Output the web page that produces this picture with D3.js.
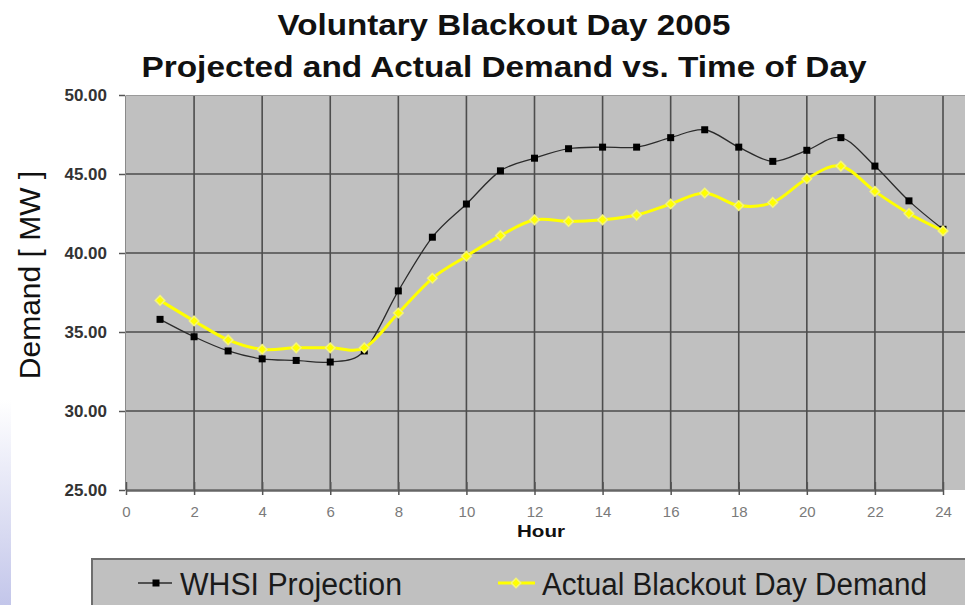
<!DOCTYPE html>
<html>
<head>
<meta charset="utf-8">
<title>Voluntary Blackout Day 2005</title>
<script src="https://cdn.jsdelivr.net/npm/d3@7/dist/d3.min.js"></script>
<style>
	html, body { margin: 0; padding: 0; background: #fff; }
	svg { display: block; }
</style>
</head>
<body>
<div id="chart"></div>
<script>
'use strict';

// Voluntary Blackout Day 2005 - projected vs actual demand, Excel-style line chart.

const hours = [1, 2, 3, 4, 5, 6, 7, 8, 9, 10, 11, 12, 13, 14, 15, 16, 17, 18, 19, 20, 21, 22, 23, 24];
const projection = [35.8, 34.7, 33.8, 33.3, 33.2, 33.1, 33.8, 37.6, 41.0, 43.1, 45.2, 46.0,
	46.6, 46.7, 46.7, 47.3, 47.8, 46.7, 45.8, 46.5, 47.3, 45.5, 43.3, 41.5];
const actual = [37.0, 35.7, 34.5, 33.9, 34.0, 34.0, 34.0, 36.2, 38.4, 39.8, 41.1, 42.1,
	42.0, 42.1, 42.4, 43.1, 43.8, 43.0, 43.2, 44.7, 45.5, 43.9, 42.5, 41.4];
const xTicks = [0, 2, 4, 6, 8, 10, 12, 14, 16, 18, 20, 22, 24];
const yTicks = [25, 30, 35, 40, 45, 50];
const seriesNames = ['WHSI Projection', 'Actual Blackout Day Demand'];
const titleLines = ['Voluntary Blackout Day 2005', 'Projected and Actual Demand vs. Time of Day'];

const W = 965, H = 605;
const FONT = '"Liberation Sans", Arial, Helvetica, sans-serif';

const PALETTE = {
	plotBg: '#c0c0c0',
	grid: '#4d4d4d',
	axis: '#555',
	projLine: '#2b2b2b',
	projMark: '#000',
	actual: '#ffff00',
	legendBg: '#c0c0c0',
	legendEdge: '#6e6e6e'
};

const PLOT = { left: 126, right: 943, top: 95, bottom: 490, edge: 966 };

const svg = d3.select('#chart').append('svg')
	.attr('width', W).attr('height', H)
	.style('font-family', FONT);

// faint slide background tint in the lower-left corner
const defs = svg.append('defs');
const grad = defs.append('linearGradient').attr('id', 'slideTint')
	.attr('x1', 0).attr('y1', 0).attr('x2', 0).attr('y2', 1);
grad.append('stop').attr('offset', '0%').attr('stop-color', '#ffffff');
grad.append('stop').attr('offset', '100%').attr('stop-color', '#c3c6ea');
svg.append('rect').attr('x', 0).attr('y', 400).attr('width', 11).attr('height', 205)
	.attr('fill', 'url(#slideTint)');

const x = d3.scaleLinear().domain([0, 24]).range([PLOT.left, PLOT.right]);
const y = d3.scaleLinear().domain([25, 50]).range([PLOT.bottom, PLOT.top]);

// ----------------------- plot area ------------------------------------

svg.append('rect')
	.attr('x', PLOT.left).attr('y', PLOT.top)
	.attr('width', PLOT.edge - PLOT.left).attr('height', PLOT.bottom - PLOT.top)
	.attr('fill', PALETTE.plotBg);

const grid = svg.append('g');
grid.selectAll('line.h').data(yTicks.filter((t) => t > 25 && t < 50)).join('line')
	.attr('x1', PLOT.left).attr('x2', PLOT.edge)
	.attr('y1', (d) => y(d)).attr('y2', (d) => y(d))
	.attr('stroke', PALETTE.grid).attr('stroke-width', 1.6);
grid.selectAll('line.v').data(xTicks.filter((t) => t > 0)).join('line')
	.attr('x1', (d) => x(d)).attr('x2', (d) => x(d))
	.attr('y1', PLOT.top).attr('y2', PLOT.bottom)
	.attr('stroke', PALETTE.grid).attr('stroke-width', 1.6);
svg.append('line')
	.attr('x1', PLOT.left).attr('x2', PLOT.edge)
	.attr('y1', PLOT.top + 0.5).attr('y2', PLOT.top + 0.5)
	.attr('stroke', '#9a9a9a').attr('stroke-width', 1);

// ----------------------- axes -----------------------------------------

const yAxis = svg.append('g')
	.attr('transform', `translate(${PLOT.left - 1},0)`)
	.call(d3.axisLeft(y).tickValues(yTicks).tickFormat(d3.format('.2f'))
		.tickSizeInner(6).tickSizeOuter(0).tickPadding(12));
yAxis.select('.domain').attr('stroke', '#8a8a8a').attr('stroke-width', 1);
yAxis.selectAll('.tick line').attr('stroke', PALETTE.axis).attr('stroke-width', 1.5);
yAxis.selectAll('.tick text')
	.attr('fill', '#333').attr('font-size', 17).attr('font-weight', 'bold')
	.attr('font-family', FONT);

const xAxis = svg.append('g')
	.attr('transform', `translate(0,${PLOT.bottom})`)
	.call(d3.axisBottom(x).tickValues(xTicks).tickFormat(d3.format('d'))
		.tickSizeInner(5).tickSizeOuter(0).tickPadding(11));
xAxis.select('.domain').attr('stroke', '#666').attr('stroke-width', 2.5);
xAxis.selectAll('.tick line').attr('stroke', PALETTE.axis).attr('stroke-width', 1.5)
	.attr('y1', -8);
xAxis.selectAll('.tick text')
	.attr('fill', '#7a7a7a').attr('font-size', 15)
	.attr('font-family', FONT);

svg.append('text')
	.attr('x', 541).attr('y', 537)
	.attr('text-anchor', 'middle')
	.attr('font-size', 17).attr('font-weight', 'bold').attr('fill', '#111')
	.attr('textLength', 48).attr('lengthAdjust', 'spacingAndGlyphs')
	.text('Hour');

svg.append('text')
	.attr('transform', 'translate(40,275) rotate(-90)')
	.attr('text-anchor', 'middle')
	.attr('font-size', 30).attr('fill', '#111')
	.text('Demand [ MW ]');

// ----------------------- title ----------------------------------------

const titleSpec = [
	{ y: 35, len: 453 },
	{ y: 77, len: 725 }
];
svg.selectAll('text.title').data(titleLines).join('text')
	.attr('class', 'title')
	.attr('x', 504).attr('y', (d, i) => titleSpec[i].y)
	.attr('text-anchor', 'middle')
	.attr('font-size', 30).attr('font-weight', 'bold').attr('fill', '#111')
	.attr('textLength', (d, i) => titleSpec[i].len).attr('lengthAdjust', 'spacingAndGlyphs')
	.text((d) => d);

// ----------------------- series ---------------------------------------

const line = d3.line().curve(d3.curveCardinal.tension(0))
	.x((d) => x(d[0])).y((d) => y(d[1]));
const projPts = d3.zip(hours, projection);
const actualPts = d3.zip(hours, actual);

svg.append('path').datum(projPts)
	.attr('d', line).attr('fill', 'none')
	.attr('stroke', PALETTE.projLine).attr('stroke-width', 1.3);
svg.append('g').selectAll('rect').data(projPts).join('rect')
	.attr('x', (d) => x(d[0]) - 3.5).attr('y', (d) => y(d[1]) - 3.5)
	.attr('width', 7).attr('height', 7)
	.attr('fill', PALETTE.projMark);

const diamond = d3.symbol().type(d3.symbolDiamond2).size(58);
svg.append('path').datum(actualPts)
	.attr('d', line).attr('fill', 'none')
	.attr('stroke', PALETTE.actual).attr('stroke-width', 3);
svg.append('g').selectAll('path').data(actualPts).join('path')
	.attr('transform', (d) => `translate(${x(d[0])},${y(d[1])})`)
	.attr('d', diamond)
	.attr('fill', PALETTE.actual)
	.attr('stroke', '#f4f47a').attr('stroke-width', 1.5);

// ----------------------- legend ---------------------------------------

const legend = svg.append('g');
legend.append('rect')
	.attr('x', 92).attr('y', 559).attr('width', W - 92 + 2).attr('height', H - 559 + 2)
	.attr('fill', PALETTE.legendBg)
	.attr('stroke', PALETTE.legendEdge).attr('stroke-width', 2);

const legendSpec = [
	{ lx1: 138, lx2: 172, mx: 156, tx: 180, len: 222 },
	{ lx1: 498, lx2: 535, mx: 516, tx: 542, len: 385 }
];
const ly = 583;

legend.append('line')
	.attr('x1', legendSpec[0].lx1).attr('x2', legendSpec[0].lx2)
	.attr('y1', ly).attr('y2', ly)
	.attr('stroke', PALETTE.projLine).attr('stroke-width', 1.3);
legend.append('rect')
	.attr('x', legendSpec[0].mx - 3.5).attr('y', ly - 3.5)
	.attr('width', 7).attr('height', 7).attr('fill', PALETTE.projMark);

legend.append('line')
	.attr('x1', legendSpec[1].lx1).attr('x2', legendSpec[1].lx2)
	.attr('y1', ly).attr('y2', ly)
	.attr('stroke', PALETTE.actual).attr('stroke-width', 3);
legend.append('path')
	.attr('transform', `translate(${legendSpec[1].mx},${ly})`)
	.attr('d', diamond)
	.attr('fill', PALETTE.actual).attr('stroke', '#f4f47a').attr('stroke-width', 1.5);

legend.selectAll('text').data(seriesNames).join('text')
	.attr('x', (d, i) => legendSpec[i].tx).attr('y', 595)
	.attr('font-size', 31).attr('fill', '#1a1a1a')
	.attr('textLength', (d, i) => legendSpec[i].len).attr('lengthAdjust', 'spacingAndGlyphs')
	.text((d) => d);
</script>
</body>
</html>
